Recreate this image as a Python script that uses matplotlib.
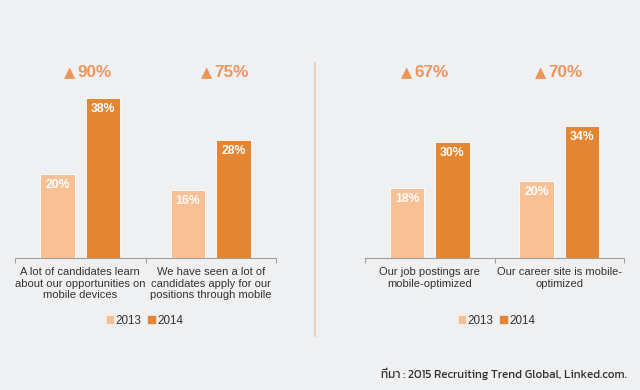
import matplotlib
matplotlib.use('Agg')
import matplotlib.pyplot as plt
from matplotlib.patches import Patch

plt.rcParams['font.family'] = ['Liberation Sans', 'DejaVu Sans']

years = ['2013', '2014']
left_cats = ['A lot of candidates learn\nabout our opportunities on\nmobile devices',
             'We have seen a lot of\ncandidates apply for our\npositions through mobile']
left_2013 = [20, 16]
left_2014 = [38, 28]
left_growth = ['90%', '75%']

right_cats = ['Our job postings are\nmobile-optimized',
              'Our career site is mobile-\noptimized']
right_2013 = [18, 20]
right_2014 = [30, 34]
right_growth = ['67%', '70%']

source = 'ที่มา : 2015 Recruiting Trend Global, Linked.com.'

bg = '#eff0f2'
c13 = '#f8c095'
c14 = '#e38531'
cup = '#f0955a'
W, H = 640, 390
BASE = 258

fig = plt.figure(figsize=(6.4, 3.9), dpi=100, facecolor=bg)


def panel(x0, x1, px_per_pct, cats, v13, v14, growth, gx):
    top = BASE - 40 * px_per_pct
    ax = fig.add_axes([x0 / W, (H - BASE) / H, (x1 - x0) / W, (BASE - top) / H])
    ax.set_facecolor('none')
    ax.set_xlim(-0.5, 1.5)
    ax.set_ylim(0, 40)
    off, bw = 0.175, 0.265
    lab_off = 11 / px_per_pct
    for i in range(len(cats)):
        ax.bar(i - off, v13[i], bw, color=c13, edgecolor='white', linewidth=0.6)
        ax.bar(i + off, v14[i], bw, color=c14, edgecolor='white', linewidth=0.6)
        ax.text(i - off, v13[i] - lab_off, '%d%%' % v13[i], ha='center', va='center',
                color='white', fontsize=8.8, fontweight='bold')
        ax.text(i + off, v14[i] - lab_off, '%d%%' % v14[i], ha='center', va='center',
                color='white', fontsize=8.8, fontweight='bold')
        ax.text(i, -9 / px_per_pct, cats[i], ha='center', va='top', color='#333333',
                fontsize=8.0, linespacing=1.2)
        # growth label above each group
        fig.text(gx[i] / W, 1 - 72.5 / H, growth[i], ha='left', va='center', color=cup,
                 fontsize=12.3, fontweight='bold')
        fig.text((gx[i] - 1.5) / W, 1 - 72.5 / H, '▲', ha='right', va='center', color=cup,
                 fontsize=10.5, family=['DejaVu Sans'])
    for s in ['top', 'right', 'left']:
        ax.spines[s].set_visible(False)
    ax.spines['bottom'].set_color('#a0a0a0')
    ax.spines['bottom'].set_linewidth(0.8)
    ax.set_yticks([])
    ax.set_xticks([-0.5, 0.5, 1.5])
    ax.set_xticklabels([])
    ax.tick_params(axis='x', length=3.5, color='#a0a0a0', width=0.8)
    return ax


panel(15, 276, 4.22, left_cats, left_2013, left_2014, left_growth, [77, 214])
panel(365, 624, 3.87, right_cats, right_2013, right_2014, right_growth, [414, 548])

# divider
fig.add_artist(plt.Line2D([315 / W, 315 / W], [1 - 63 / H, 1 - 336 / H],
                          color='#f3c9a6', linewidth=1.2))

handles = [Patch(color=c13, label=years[0]), Patch(color=c14, label=years[1])]
for cx in [145, 497]:
    fig.legend(handles=handles, loc='center', bbox_to_anchor=(cx / W, 1 - 321 / H),
               ncol=2, frameon=False, fontsize=8.4, handlelength=0.55, handleheight=0.55,
               handletextpad=0.2, columnspacing=0.6, labelcolor='#333333')

fig.text(627 / W, 1 - 374 / H, source, ha='right', va='center', fontsize=8.5,
         color='#333333', family=['Kanit', 'DejaVu Sans'], fontweight='normal')

fig.savefig('out.png', dpi=100, facecolor=bg)
